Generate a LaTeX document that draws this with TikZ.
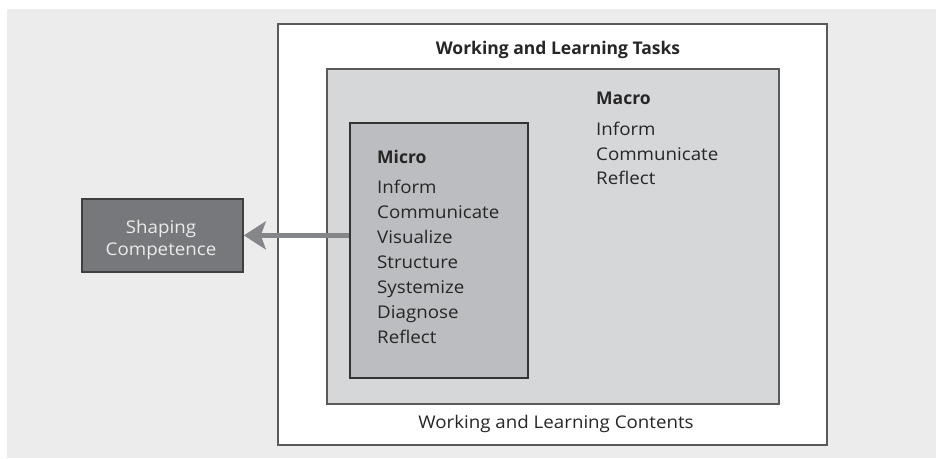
\documentclass[tikz,border=0pt]{standalone}
\usepackage{fontspec}
\setmainfont{Open Sans}
\newfontfamily\regf[FakeStretch=1.07]{Open Sans}
\usetikzlibrary{arrows.meta}
\definecolor{bgc}{HTML}{ECECEC}
\definecolor{linec}{HTML}{5A5A5A}
\definecolor{innerc}{HTML}{D6D7D9}
\definecolor{microc}{HTML}{BCBDC0}
\definecolor{shapec}{HTML}{77787B}
\definecolor{txtc}{HTML}{262626}
\definecolor{arrc}{HTML}{85868A}
\tikzset{
  box/.style={draw=linec, line width=1.8pt, inner sep=0pt, anchor=north west},
  lbl/.style={inner sep=0pt, anchor=base west, text=txtc, font=\regf\fontsize{17.5}{21}\selectfont},
  hdl/.style={inner sep=0pt, anchor=base west, text=txtc, font=\fontsize{17.5}{21}\selectfont\bfseries},
  ctr/.style={inner sep=0pt, anchor=base, text=txtc, font=\regf\fontsize{17.5}{21}\selectfont},
  arr/.style={draw=arrc, line width=5.5pt, -{Stealth[length=22pt, width=28pt, inset=5pt]}}
}
\begin{document}
\begin{tikzpicture}[x=1pt,y=-1pt]
\useasboundingbox (0,0) rectangle (936,458);
\fill[white] (0,0) rectangle (936,458);
\fill[bgc] (7,9) rectangle (936,458);
% boxes
\node[box, fill=white, minimum width=549pt, minimum height=421pt] (outer) at (277,23) {};
\node[box, fill=innerc, minimum width=452pt, minimum height=335pt] (inner) at (326,68) {};
\node[box, fill=microc, draw=black!80, minimum width=178pt, minimum height=255pt] (micro) at (349,122) {};
\node[box, fill=shapec, draw=black!75, minimum width=161pt, minimum height=73pt] (shaping) at (81,198) {};
% titles
\node[inner sep=0pt, anchor=base, text=txtc, font=\fontsize{17.5}{21}\selectfont\bfseries] (tasks) at (558,54) {Working and Learning Tasks};
\node[ctr] (contents) at (556,428) {Working and Learning Contents};
% macro
\node[hdl] (macro) at (596,104) {Macro};
\node[lbl] (ma1) at (596,135) {Inform};
\node[lbl] (ma2) at (596,160) {Communicate};
\node[lbl] (ma3) at (596,184) {Reflect};
% micro
\node[hdl] (microh) at (377,163) {Micro};
\node[lbl] (mi1) at (377,193) {Inform};
\node[lbl] (mi2) at (377,218) {Communicate};
\node[lbl] (mi3) at (377,243) {Visualize};
\node[lbl] (mi4) at (377,268) {Structure};
\node[lbl] (mi5) at (377,293) {Systemize};
\node[lbl] (mi6) at (377,318) {Diagnose};
\node[lbl] (mi7) at (377,343) {Reflect};
% shaping text
\node[ctr, text=black!8] (sh1) at (161,233) {Shaping};
\node[ctr, text=black!8] (sh2) at (161,255) {Competence};
% arrow
\draw[arr] (micro.west |- shaping.east) -- (shaping.east);
\end{tikzpicture}
\end{document}
